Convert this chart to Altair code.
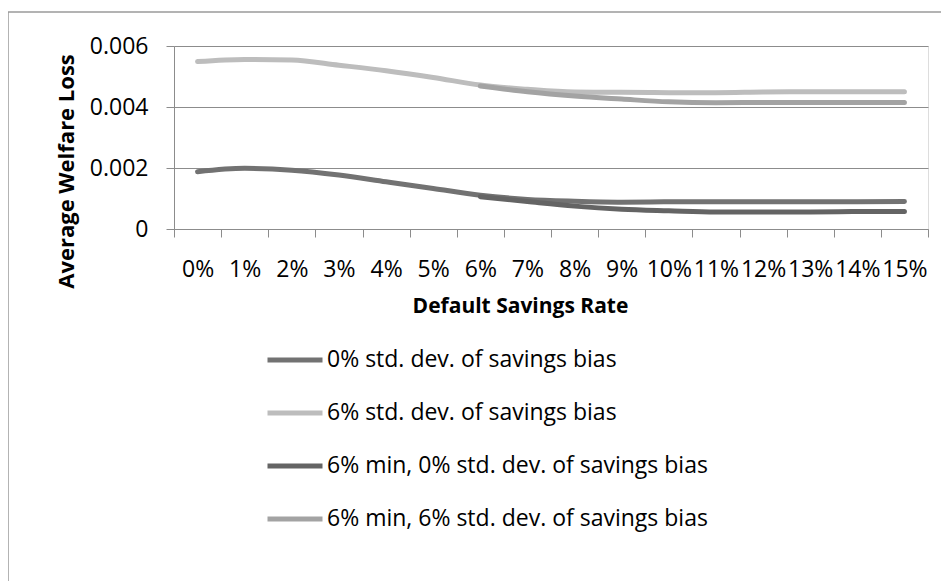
import altair as alt
import pandas as pd

rates = ["0%", "1%", "2%", "3%", "4%", "5%", "6%", "7%", "8%", "9%",
         "10%", "11%", "12%", "13%", "14%", "15%"]

series_names = [
    "0% std. dev. of savings bias",
    "6% std. dev. of savings bias",
    "6% min, 0% std. dev. of savings bias",
    "6% min, 6% std. dev. of savings bias",
]
series_colors = ["#727272", "#bdbdbd", "#646464", "#a3a3a3"]

sd0 = [0.00188, 0.00199, 0.00193, 0.00177, 0.00155, 0.00133, 0.00111, 0.00097,
       0.00091, 0.00088, 0.00089, 0.00089, 0.00089, 0.00089, 0.00089, 0.00090]
sd6 = [0.00549, 0.00556, 0.00554, 0.00537, 0.00519, 0.00497, 0.00472, 0.00458,
       0.00449, 0.00448, 0.00447, 0.00447, 0.00449, 0.00450, 0.00450, 0.00450]
min_sd0 = [None, None, None, None, None, None, 0.00106, 0.00090,
           0.00075, 0.00065, 0.00060, 0.00056, 0.00056, 0.00056, 0.00057, 0.00057]
min_sd6 = [None, None, None, None, None, None, 0.00469, 0.00450,
           0.00436, 0.00426, 0.00417, 0.00414, 0.00415, 0.00415, 0.00415, 0.00415]

rows = []
for name, vals in zip(series_names, [sd0, sd6, min_sd0, min_sd6]):
    for i, (r, v) in enumerate(zip(rates, vals)):
        if v is not None:
            rows.append({"rate": r, "loss": v, "series": name, "idx": i})
df = pd.DataFrame(rows)

FONT = "Open Sans"

x_enc = alt.X(
    "rate:N",
    sort=rates,
    bandPosition=0.5,
    scale=alt.Scale(type="band", domain=rates, paddingInner=0, paddingOuter=0),
    axis=alt.Axis(
        title="Default Savings Rate",
        labelAngle=0,
        tickBand="extent",
        tickSize=8,
        tickColor="#8c8c8c",
        domainColor="#8c8c8c",
        labelFont=FONT,
        labelFontSize=23,
        labelColor="#000000",
        labelPadding=21,
        titleFont=FONT,
        titleFontSize=21,
        titleFontWeight="bold",
        titleColor="#000000",
        titleX=346,
        titleAlign="center",
        titlePadding=14,
        grid=False,
    ),
)

y_enc = alt.Y(
    "loss:Q",
    scale=alt.Scale(domain=[0, 0.006], nice=False, zero=True),
    axis=alt.Axis(
        title="Average Welfare Loss",
        values=[0, 0.002, 0.004, 0.006],
        labelExpr="datum.value == 0 ? '0' : format(datum.value, '.3f')",
        tickSize=8,
        tickColor="#8c8c8c",
        domainColor="#8c8c8c",
        gridColor="#8c8c8c",
        gridWidth=1,
        labelFont=FONT,
        labelFontSize=23,
        labelColor="#000000",
        labelPadding=18,
        titleFont=FONT,
        titleFontSize=22,
        titleFontWeight="bold",
        titleColor="#000000",
        titleX=-101,
        titleY=125,
        titleBaseline="alphabetic",
        titleAngle=-90,
    ),
)

color_enc = alt.Color(
    "series:N",
    sort=series_names,
    scale=alt.Scale(domain=series_names, range=series_colors),
    legend=alt.Legend(
        title=None,
        orient="none",
        legendX=91,
        legendY=284,
        direction="vertical",
        symbolType="stroke",
        symbolSize=3025,
        symbolStrokeWidth=5,
        labelFont=FONT,
        labelFontSize=23,
        labelColor="#000000",
        labelOffset=2,
        labelLimit=0,
        rowPadding=11,
    ),
)

lines = alt.Chart(df).mark_line(
    interpolate="monotone", strokeWidth=5, strokeCap="round"
).encode(
    x=x_enc,
    y=y_enc,
    color=color_enc,
    order=alt.Order("idx:Q"),
    detail="series:N",
)

border = alt.Chart(pd.DataFrame({"a": [0]})).mark_rect(
    fill=None, stroke="#9a9a9a", strokeWidth=1.5
).encode(
    x=alt.value(-166), x2=alt.value(900), y=alt.value(-34), y2=alt.value(700)
)

chart = alt.layer(border, lines).properties(
    width=754,
    height=183,
    autosize=alt.AutoSizeParams(type="none"),
    padding={"left": 166, "top": 38, "right": 13, "bottom": 352},
).configure_view(stroke=None).configure(background="white")

chart.save("out.html", embed_options={"renderer": "svg", "actions": False})
